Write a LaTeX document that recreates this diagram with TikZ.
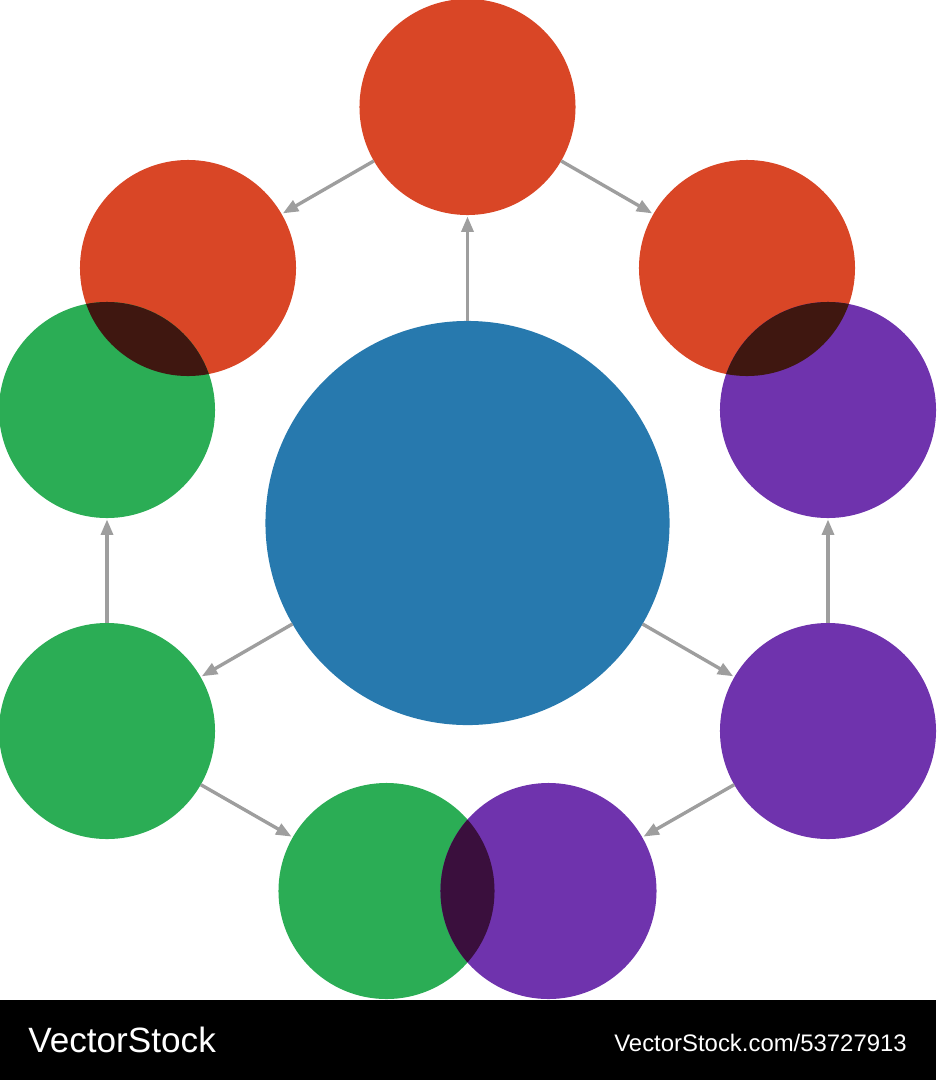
\documentclass[tikz,border=0pt]{standalone}
\usepackage{fontspec}
\setmainfont{Liberation Sans}
\usetikzlibrary{arrows.meta}
\usetikzlibrary{positioning}

\definecolor{hubBlue}{HTML}{2779AE}
\definecolor{stageRed}{HTML}{D94626}
\definecolor{stageGreen}{HTML}{2BAD55}
\definecolor{stagePurple}{HTML}{6F33AD}
\definecolor{mixRed}{HTML}{3F1710}
\definecolor{mixGreen}{HTML}{3A0F3D}
\definecolor{flowGray}{HTML}{9E9E9E}

\begin{document}
\begin{tikzpicture}[x=0.025cm,y=-0.025cm]

    \useasboundingbox (0,0) rectangle (936,1080);

    % Define styles
    \tikzstyle{hubCircle} = [circle, fill=hubBlue, minimum size=10.1cm, inner sep=0pt, outer sep=0pt]
    \tikzstyle{stage} = [circle, minimum size=5.4cm, inner sep=0pt, outer sep=0pt]
    \tikzstyle{flow} = [draw=flowGray, line width=2.4pt, -{Triangle[length=11pt,width=8.5pt]}, shorten >=1pt]
    \tikzstyle{watermark} = [text=white, inner sep=0pt]

    % Centre
    \node[hubCircle] (hub) at (467.5, 523) {};

    % Red stages
    \node[stage, fill=stageRed] (topRed) at (467.5, 107) {};
    \node[stage, fill=stageRed] (leftRed) at (188, 268) {};
    \node[stage, fill=stageRed] (rightRed) at (747, 268) {};

    % Green stages
    \node[stage, fill=stageGreen] (upGreen) at (107, 410) {};
    \node[stage, fill=stageGreen] (lowGreen) at (107, 731) {};
    \node[stage, fill=stageGreen] (bottomGreen) at (386.5, 891) {};

    % Purple stages
    \node[stage, fill=stagePurple] (upPurple) at (828, 410) {};
    \node[stage, fill=stagePurple] (lowPurple) at (828, 731) {};
    \node[stage, fill=stagePurple] (bottomPurple) at (548.5, 891) {};

    % Overlaps
    \begin{scope}
        \clip (leftRed.center) circle[radius=2.7cm];
        \fill[mixRed] (upGreen.center) circle[radius=2.7cm];
    \end{scope}
    \begin{scope}
        \clip (rightRed.center) circle[radius=2.7cm];
        \fill[mixRed] (upPurple.center) circle[radius=2.7cm];
    \end{scope}
    \begin{scope}
        \clip (bottomGreen.center) circle[radius=2.7cm];
        \fill[mixGreen] (bottomPurple.center) circle[radius=2.7cm];
    \end{scope}

    % Flows
    \draw[flow] (hub) -- (topRed);
    \draw[flow] (topRed) -- (leftRed);
    \draw[flow] (topRed) -- (rightRed);
    \draw[flow] (hub) -- (lowGreen);
    \draw[flow] (hub) -- (lowPurple);
    \draw[flow] (lowGreen) -- (upGreen);
    \draw[flow] (lowPurple) -- (upPurple);
    \draw[flow] (lowGreen) -- (bottomGreen);
    \draw[flow] (lowPurple) -- (bottomPurple);

    % Footer
    \fill[black] (0,1000) rectangle (936,1080);
    \node[watermark, anchor=base west, font=\fontsize{25}{30}\selectfont] (markLeft) at (28, 1052) {VectorStock};
    \node[watermark, anchor=base east, font=\fontsize{17}{20}\selectfont] (markRight) at (907, 1051) {VectorStock.com/53727913};

\end{tikzpicture}
\end{document}
